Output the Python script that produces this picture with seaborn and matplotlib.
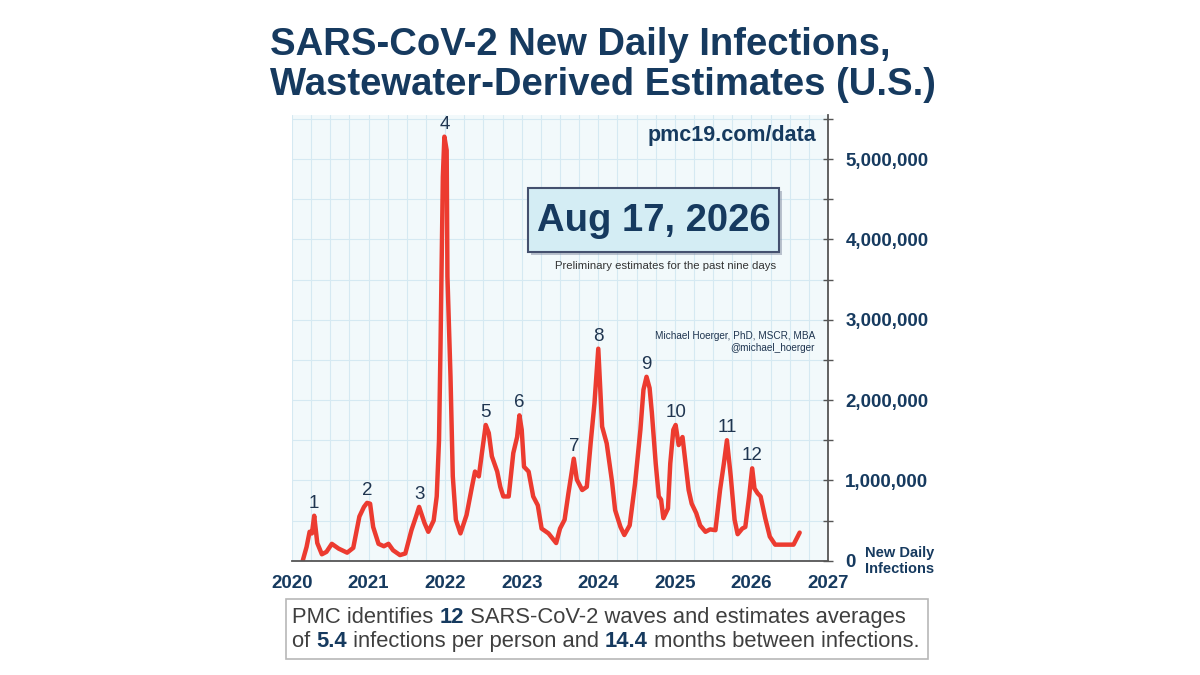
import matplotlib
matplotlib.use("Agg")
import matplotlib.pyplot as plt
import matplotlib.patches as mpatches
from matplotlib.ticker import MultipleLocator, FuncFormatter
import numpy as np
import seaborn as sns

# Wastewater-derived new daily infections (millions)
years = [
    2020.14, 2020.19, 2020.23, 2020.26, 2020.29, 2020.33, 2020.39, 2020.45, 2020.52, 2020.61,
    2020.72, 2020.80, 2020.88, 2020.94, 2020.98, 2021.02, 2021.06, 2021.13, 2021.20, 2021.26,
    2021.32, 2021.41, 2021.48, 2021.56, 2021.62, 2021.66, 2021.73, 2021.78, 2021.85, 2021.89,
    2021.92, 2021.94, 2021.97, 2021.99, 2022.02, 2022.03, 2022.07, 2022.10, 2022.14, 2022.20,
    2022.28, 2022.35, 2022.39, 2022.44, 2022.48, 2022.53, 2022.57, 2022.61, 2022.68, 2022.72,
    2022.76, 2022.83, 2022.89, 2022.94, 2022.97, 2023.00, 2023.03, 2023.09, 2023.15, 2023.21,
    2023.26, 2023.35, 2023.45, 2023.50, 2023.56, 2023.61, 2023.68, 2023.72, 2023.79, 2023.85,
    2023.90, 2023.95, 2024.00, 2024.05, 2024.11, 2024.18, 2024.22, 2024.29, 2024.34, 2024.41,
    2024.48, 2024.55, 2024.59, 2024.63, 2024.67, 2024.70, 2024.75, 2024.79, 2024.82, 2024.85,
    2024.91, 2024.94, 2024.98, 2025.01, 2025.05, 2025.10, 2025.14, 2025.18, 2025.22, 2025.28,
    2025.33, 2025.40, 2025.46, 2025.53, 2025.59, 2025.64, 2025.68, 2025.73, 2025.78, 2025.82,
    2025.88, 2025.92, 2025.97, 2026.01, 2026.04, 2026.08, 2026.12, 2026.18, 2026.24, 2026.31,
    2026.55, 2026.63,
]
infections_m = [
    0.00, 0.17, 0.36, 0.34, 0.56, 0.22, 0.08, 0.11, 0.21, 0.15,
    0.10, 0.16, 0.55, 0.67, 0.72, 0.71, 0.42, 0.21, 0.18, 0.21,
    0.13, 0.07, 0.09, 0.38, 0.55, 0.67, 0.47, 0.36, 0.50, 0.80,
    1.50, 2.70, 4.78, 5.28, 5.11, 3.54, 2.29, 1.05, 0.51, 0.34,
    0.57, 0.92, 1.11, 1.05, 1.34, 1.69, 1.59, 1.30, 1.11, 0.92,
    0.80, 0.80, 1.34, 1.54, 1.81, 1.63, 1.17, 1.11, 0.80, 0.69,
    0.40, 0.34, 0.22, 0.40, 0.51, 0.84, 1.27, 1.01, 0.88, 0.92,
    1.46, 1.96, 2.64, 1.67, 1.46, 0.98, 0.63, 0.42, 0.32, 0.44,
    0.96, 1.63, 2.13, 2.29, 2.15, 1.84, 1.21, 0.80, 0.76, 0.53,
    0.65, 1.21, 1.63, 1.69, 1.44, 1.54, 1.21, 0.88, 0.71, 0.59,
    0.44, 0.36, 0.39, 0.38, 0.88, 1.21, 1.50, 1.05, 0.51, 0.33,
    0.40, 0.42, 0.80, 1.15, 0.90, 0.84, 0.80, 0.53, 0.30, 0.20,
    0.20, 0.35,
]

wave_numbers = [1, 2, 3, 4, 5, 6, 7, 8, 9, 10, 11, 12]
wave_peaks = [2020.29, 2020.98, 2021.66, 2021.99, 2022.53, 2022.97,
              2023.68, 2024.00, 2024.63, 2025.01, 2025.68, 2026.01]

year_ticks = [2020, 2021, 2022, 2023, 2024, 2025, 2026, 2027]

NAVY = "#163a5f"
LABEL = "#1f3550"
RED = "#ec3b30"

sns.set_style("white")
plt.rcParams["font.family"] = ["Liberation Sans", "DejaVu Sans"]

W, H = 1200, 675
fig = plt.figure(figsize=(12, 6.75), dpi=100)


def fx(px):
    return px / W


def fy(py):
    return 1 - py / H


ax = fig.add_axes([fx(292), fy(560.7), fx(828 - 292), (560.7 - 115) / H])
ax.set_facecolor("#f2f9fb")

values = np.array(infections_m) * 1e6
sns.lineplot(x=years, y=values, color=RED, lw=3.2, ax=ax, solid_joinstyle="round",
             solid_capstyle="round")

ax.set_xlim(2020, 2027)
ax.set_ylim(0, 5.55e6)
ax.xaxis.set_major_locator(MultipleLocator(1))
ax.xaxis.set_minor_locator(MultipleLocator(0.25))
ax.yaxis.set_major_locator(MultipleLocator(1e6))
ax.yaxis.set_minor_locator(MultipleLocator(5e5))
ax.set_xticks(year_ticks)
ax.set_xticklabels([str(y) for y in year_ticks])
ax.yaxis.set_major_formatter(FuncFormatter(lambda v, p: f"{v:,.0f}"))
ax.yaxis.tick_right()

ax.grid(which="both", color="#d5e9f2", lw=0.8)
for s in ["left", "top"]:
    ax.spines[s].set_visible(False)
for s in ["right", "bottom"]:
    ax.spines[s].set_color("#555555")
    ax.spines[s].set_linewidth(1.3)

ax.tick_params(axis="x", which="major", direction="inout", length=8, width=1.2,
               color="#555555", labelsize=13.5, labelcolor=NAVY, pad=6)
ax.tick_params(axis="x", which="minor", direction="inout", length=5, width=1.0,
               color="#555555")
ax.tick_params(axis="y", which="both", direction="inout", length=7, width=1.0,
               color="#555555", labelsize=13.5, labelcolor=NAVY, pad=9)
for lab in ax.get_xticklabels() + ax.get_yticklabels():
    lab.set_fontweight("bold")
ax.set_xlabel("")
ax.set_ylabel("")

# wave numbers above each peak
for n, yr in zip(wave_numbers, wave_peaks):
    peak = np.interp(yr, years, values)
    ax.annotate(str(n), (yr, peak), xytext=(0, 3), textcoords="offset points",
                ha="center", va="bottom", fontsize=13.5, color=LABEL)

# title, two lines
fig.text(fx(270), fy(55), "SARS-CoV-2 New Daily Infections,", ha="left", va="baseline",
         fontsize=27.5, fontweight="bold", color=NAVY)
fig.text(fx(270), fy(95), "Wastewater-Derived Estimates (U.S.)", ha="left", va="baseline",
         fontsize=27.5, fontweight="bold", color=NAVY)

fig.text(fx(816), fy(135), "pmc19.com/data", ha="right", va="center",
         fontsize=15.5, fontweight="bold", color=NAVY)

# date box with shadow
bx0, bx1, by0, by1 = 528, 779, 188, 252
shadow = mpatches.Rectangle((fx(bx0 + 3), fy(by1 + 3)), fx(bx1 - bx0), (by1 - by0) / H,
                            transform=fig.transFigure, facecolor="#8a93a8", alpha=0.55,
                            edgecolor="none")
box = mpatches.Rectangle((fx(bx0), fy(by1)), fx(bx1 - bx0), (by1 - by0) / H,
                         transform=fig.transFigure, facecolor="#d4edf4",
                         edgecolor="#44506e", lw=1.5)
fig.add_artist(shadow)
fig.add_artist(box)
fig.text(fx((bx0 + bx1) / 2), fy(221), "Aug 17, 2026", ha="center", va="center",
         fontsize=27.5, fontweight="bold", color=NAVY)
fig.text(fx(666), fy(266), "Preliminary estimates for the past nine days",
         ha="center", va="center", fontsize=8.2, color="#333333")

fig.text(fx(815), fy(342), "Michael Hoerger, PhD, MSCR, MBA\n@michael_hoerger",
         ha="right", va="center", multialignment="right", fontsize=7.2,
         color=LABEL, linespacing=1.35)

fig.text(fx(865), fy(561), "New Daily\nInfections", ha="left", va="center",
         fontsize=10.5, fontweight="bold", color=NAVY, linespacing=1.15)

# summary box at the bottom
fig.add_artist(mpatches.Rectangle((fx(285.7), fy(659)), fx(928 - 285.7), (659 - 599.3) / H,
                                  transform=fig.transFigure, facecolor="white",
                                  edgecolor="#b8b8b8", lw=1.2))

summary_lines = [
    [("PMC identifies ", False), ("12", True), (" SARS-CoV-2 waves and estimates averages", False)],
    [("of ", False), ("5.4", True), (" infections per person and ", False), ("14.4", True),
     (" months between infections.", False)],
]
renderer = fig.canvas.get_renderer()
for line, ypx in zip(summary_lines, [623, 647]):
    xpx = 292
    for txt, bold in line:
        t = fig.text(fx(xpx), fy(ypx), txt, ha="left", va="baseline", fontsize=15.8,
                     color=NAVY if bold else "#3f3f3f",
                     fontweight="bold" if bold else "normal")
        xpx += t.get_window_extent(renderer).width

fig.savefig("out.png", dpi=100)
